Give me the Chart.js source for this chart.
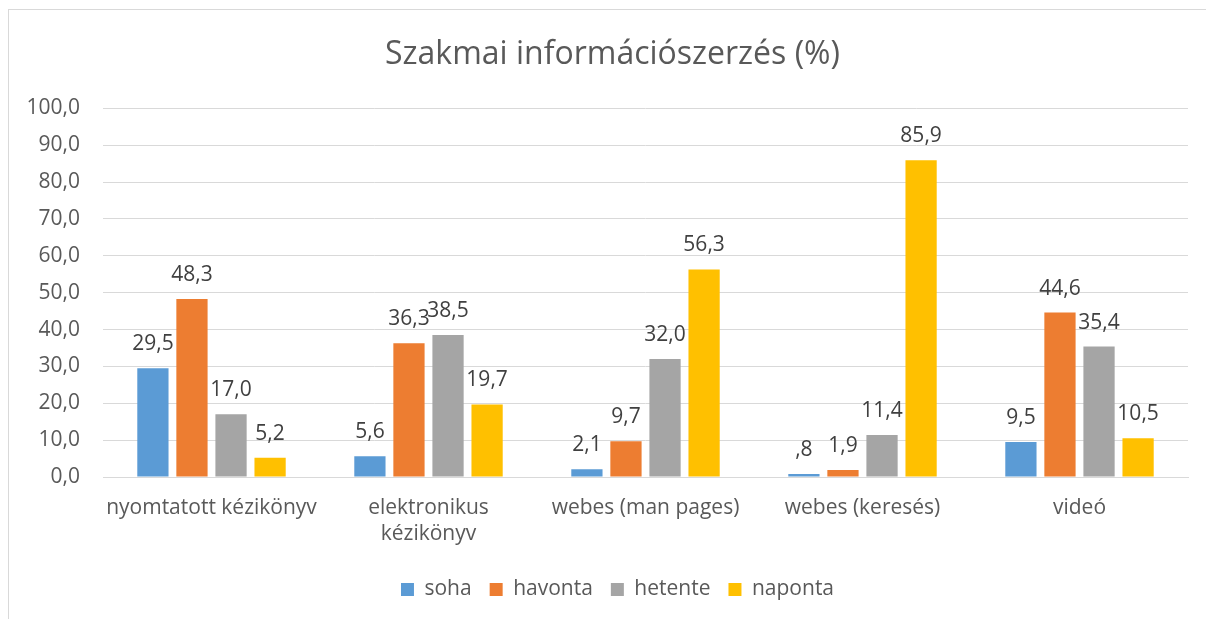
<!DOCTYPE html>
<html lang="hu">
<head>
<meta charset="utf-8">
<title>Szakmai információszerzés (%)</title>
<script src="https://cdn.jsdelivr.net/npm/chart.js@4.4.1/dist/chart.umd.min.js"></script>
<style>
  html, body { margin: 0; padding: 0; background: #fff; overflow: hidden; }
  #frame {
    position: absolute; left: 8px; top: 9px;
    width: 1220px; height: 640px;
    border: 1px solid #d9d9d9;
  }
  #box { position: absolute; left: 0; top: 0; width: 1197px; height: 609px; }
</style>
</head>
<body>
<div id="frame">
  <div id="box"><canvas id="infoChart"></canvas></div>
</div>
<script>
// Chart data
const categories = ['nyomtatott kézikönyv', ['elektronikus', 'kézikönyv'], 'webes (man pages)', 'webes (keresés)', 'videó'];
const seriesNames = ['soha', 'havonta', 'hetente', 'naponta'];
const soha    = [29.5, 5.6, 2.1, 0.8, 9.5];
const havonta = [48.3, 36.3, 9.7, 1.9, 44.6];
const hetente = [17.0, 38.5, 32.0, 11.4, 35.4];
const naponta = [5.2, 19.7, 56.3, 85.9, 10.5];
const yTicks  = [0, 10, 20, 30, 40, 50, 60, 70, 80, 90, 100];
const colors  = ['#5B9BD5', '#ED7D31', '#A5A5A5', '#FFC000'];

const FONT = '"Open Sans", "Noto Sans", sans-serif';

// 0.8 -> ",8", 29.5 -> "29,5"
function fmt(v) {
    let s = v.toFixed(1).replace('.', ',');
    if (s.startsWith('0,') && v !== 0) s = s.slice(1);
    return s;
}

// draws value labels above each bar
const barLabels = {
    id: 'barLabels',
    afterDatasetsDraw(chart) {
        const ctx = chart.ctx;
        ctx.save();
        ctx.font = '21px ' + FONT;
        ctx.fillStyle = '#404040';
        ctx.textAlign = 'center';
        ctx.textBaseline = 'alphabetic';
        chart.data.datasets.forEach((ds, i) => {
            chart.getDatasetMeta(i).data.forEach((bar, j) => {
                ctx.fillText(fmt(ds.data[j]), bar.x, bar.y - 18);
            });
        });
        ctx.restore();
    }
};

// the original centres title and legend a bit to the right of the canvas middle
const shiftBoxes = {
    id: 'shiftBoxes',
    afterLayout(chart) {
        [[chart.titleBlock, 14], [chart.legend, 19]].forEach(([box, dx]) => {
            if (!box || box._shifted) return;
            const orig = box.draw.bind(box);
            box.draw = function(area) {
                chart.ctx.save();
                chart.ctx.translate(dx, 0);
                orig(area);
                chart.ctx.restore();
            };
            box._shifted = true;
        });
    }
};

const allSeries = [soha, havonta, hetente, naponta];

new Chart(document.getElementById('infoChart'), {
    type: 'bar',
    data: {
        labels: categories,
        datasets: allSeries.map((d, i) => ({
            label: seriesNames[i],
            data: d,
            backgroundColor: colors[i],
            borderWidth: 0,
            categoryPercentage: 0.72,
            barPercentage: 0.8
        }))
    },
    options: {
        responsive: true,
        maintainAspectRatio: false,
        animation: false,
        layout: { padding: { left: 0, right: 18, top: 0, bottom: 9 } },
        plugins: {
            title: {
                display: true,
                text: 'Szakmai információszerzés (%)',
                color: '#595959',
                font: { family: FONT, size: 32, weight: 'normal' },
                padding: { top: 26, bottom: 34 }
            },
            legend: {
                position: 'bottom',
                labels: {
                    color: '#595959',
                    font: { family: FONT, size: 21 },
                    boxWidth: 13,
                    boxHeight: 13,
                    padding: 18
                }
            },
            tooltip: { enabled: false }
        },
        scales: {
            x: {
                grid: { display: false, drawTicks: false },
                border: { color: '#d9d9d9' },
                ticks: {
                    color: '#595959',
                    font: { family: FONT, size: 21, lineHeight: 1.25 },
                    padding: 18,
                    maxRotation: 0,
                    autoSkip: false
                },
                afterFit(scale) { scale.height = 84; }
            },
            y: {
                min: 0,
                max: 100,
                afterBuildTicks(scale) { scale.ticks = yTicks.map(v => ({ value: v })); },
                grid: { color: '#d9d9d9', drawTicks: false },
                border: { display: false },
                ticks: {
                    color: '#595959',
                    font: { family: FONT, size: 21 },
                    padding: 23,
                    callback: v => v.toFixed(1).replace('.', ',')
                },
                afterFit(scale) { scale.width = 94; }
            }
        }
    },
    plugins: [barLabels, shiftBoxes]
});
</script>
</body>
</html>
